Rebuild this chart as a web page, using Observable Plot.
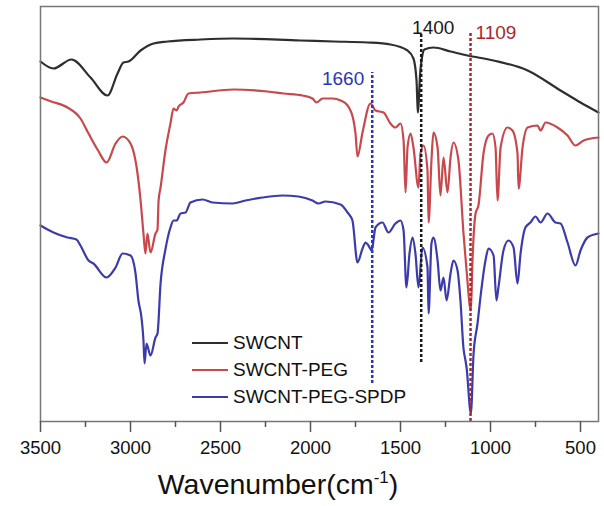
<!DOCTYPE html>
<html><head><meta charset="utf-8">
<script src="https://cdn.jsdelivr.net/npm/d3@7"></script>
<script src="https://cdn.jsdelivr.net/npm/@observablehq/plot@0.6"></script>
<style>
body{margin:0;background:#fff;font-family:"Liberation Sans",Arial,sans-serif;}
#wrap{position:relative;width:604px;height:506px;}
.lg{position:absolute;left:192px;display:flex;align-items:center;height:26px;font-size:19px;color:#111;white-space:nowrap;}
.lg span.sw{display:inline-block;width:36px;height:0;border-top:2px solid;margin-right:5px;}
</style></head>
<body><div id="wrap"></div>
<script>
// SWCNT
const swcntWave = [3500,3428,3328,3222,3128,3072,3039,3011,2944,2872,2794,2611,2428,2056,1872,1683,1556,1461,1428,1411,1406,1403,1398,1392,1383,1367,1317,1222,1128,983,794,611,500,400];
const swcntT = [360,353,362,344,326,348,359,360,371,378,380,382,383,381,380,379,377,371,363,341,318,309,322,345,361,372,374,370,366,361,351,331,319,309];
// SWCNT-PEG
const pegWave = [3500,3440,3350,3278,3233,3180,3133,3083,3044,3000,2961,2944,2928,2917,2906,2889,2861,2850,2844,2833,2806,2778,2761,2744,2733,2706,2678,2611,2428,2239,2150,2044,1989,1967,1933,1878,1833,1794,1761,1750,1739,1711,1667,1639,1594,1556,1528,1500,1483,1472,1461,1444,1428,1400,1389,1372,1350,1344,1328,1317,1294,1278,1261,1239,1222,1206,1178,1150,1133,1109,1100,1083,1067,1039,1011,989,972,961,944,906,878,850,844,822,794,739,722,694,628,572,528,483,400];
const pegT = [324,320,314,303,288,271,259,278,285,278,248,221,188,168,188,169,188,192,221,234,271,298,313,311,315,319,328,329,332,330,328,326,323,319,323,323,321,316,301,288,265,289,318,311,309,298,294,298,281,229,274,288,274,234,268,276,251,199,261,289,274,226,264,229,264,279,261,188,151,111,161,208,216,268,286,288,274,221,274,294,291,268,233,274,294,296,291,299,294,286,276,281,284];
// SWCNT-PEG-SPDP
const spdpWave = [3500,3428,3350,3300,3278,3233,3206,3133,3083,3044,3000,2972,2956,2939,2928,2922,2911,2889,2861,2850,2833,2806,2778,2761,2744,2722,2694,2667,2600,2544,2433,2361,2267,2156,2067,1989,1956,1917,1833,1794,1767,1739,1711,1694,1678,1660,1639,1600,1567,1528,1500,1483,1467,1450,1433,1417,1400,1378,1350,1344,1328,1317,1294,1278,1261,1244,1222,1206,1183,1167,1150,1139,1133,1109,1094,1072,1056,1028,1011,983,967,956,928,900,872,850,833,806,778,750,722,683,639,611,572,528,500,461,400];
const spdpT = [196,189,184,182,176,161,158,144,154,168,166,148,121,104,81,58,78,66,84,88,138,172,194,201,201,208,209,219,222,219,218,221,224,226,225,221,218,220,217,209,201,159,173,179,176,171,194,199,189,198,201,191,134,168,184,168,134,174,154,108,178,184,161,131,144,121,148,161,151,121,73,61,54,8,68,98,124,161,173,166,121,134,171,181,174,138,168,194,199,205,199,208,199,198,179,156,171,184,188];

const seriesNames = ["SWCNT","SWCNT-PEG","SWCNT-PEG-SPDP"];
const seriesColors = ["#2e2e2e","#c8484c","#3b3bab"];

// peak annotations
const annoLabel = ["1400","1109","1660"];
const annoWave = [1385,1111,1657];
const annoTop = [388,388,349];
const annoBottom = [59,0,38];
const annoColors = ["#1a1a1a","#a8282e","#2a36b8"];

const majorTicks = [3500,3000,2500,2000,1500,1000,500];
const minorTicks = [3250,2750,2250,1750,1250,750];

const series = [[swcntWave,swcntT],[pegWave,pegT],[spdpWave,spdpT]].map(([w,t],i)=>
  w.map((x,j)=>({w:x,t:t[j],s:seriesNames[i]})));

const annoStyle = [
  {dx:12, anchor:"middle", dy:0},
  {dx:5, anchor:"start", dy:5},
  {dx:-8, anchor:"end", dy:12}
];
const annos = annoLabel.map((l,i)=>({label:l,w:annoWave[i],top:annoTop[i],bottom:annoBottom[i]}));

const chart = Plot.plot({
  width:604, height:506,
  marginLeft:40, marginRight:6, marginTop:6, marginBottom:85,
  style:{fontFamily:"Liberation Sans, Arial, sans-serif", background:"#fff", color:"#111"},
  x:{domain:[3500,400], label:null},
  y:{domain:[0,415], axis:null},
  marks:[
    ...series.map((d,i)=>Plot.line(d,{x:"w",y:"t",stroke:seriesColors[i],strokeWidth:2.2,curve:"monotone-x"})),
    ...annos.map((a,i)=>Plot.ruleX([a],{x:"w",y1:"bottom",y2:"top",stroke:annoColors[i],strokeWidth:2.5,strokeDasharray:"3,2"})),
    ...annos.map((a,i)=>Plot.text([a],{x:"w",y:"top",text:"label",dx:annoStyle[i].dx,dy:annoStyle[i].dy,textAnchor:annoStyle[i].anchor,lineAnchor:"bottom",fill:annoColors[i],fontSize:19})),
    Plot.frame({stroke:"#777",strokeWidth:1.5}),
    Plot.axisX({ticks:majorTicks,tickSize:11,tickPadding:8,tickFormat:d=>String(d),fontSize:18.5,stroke:"#555",strokeWidth:1.5,label:null}),
    Plot.axisX({ticks:minorTicks,tickSize:6,tickFormat:()=>"",stroke:"#555",strokeWidth:1.5,label:null})
  ]
});

const svg = d3.select(chart);
const t = svg.append("text").attr("x",278).attr("y",494).attr("text-anchor","middle")
  .attr("font-size",28.5).attr("fill","#111")
  .attr("font-family","Liberation Sans, Arial, sans-serif");
t.append("tspan").text("Wavenumber(cm");
t.append("tspan").attr("font-size",17).attr("dy",-11).text("-1");
t.append("tspan").attr("dy",11).text(")");

const wrap = document.getElementById("wrap");
wrap.appendChild(chart);
seriesNames.forEach((n,i)=>{
  const row = document.createElement("div");
  row.className="lg";
  row.style.top=(330+27*i)+"px";
  const sw=document.createElement("span");sw.className="sw";sw.style.borderTopColor=seriesColors[i];
  row.appendChild(sw);
  row.appendChild(document.createTextNode(n));
  wrap.appendChild(row);
});
</script>
</body></html>
